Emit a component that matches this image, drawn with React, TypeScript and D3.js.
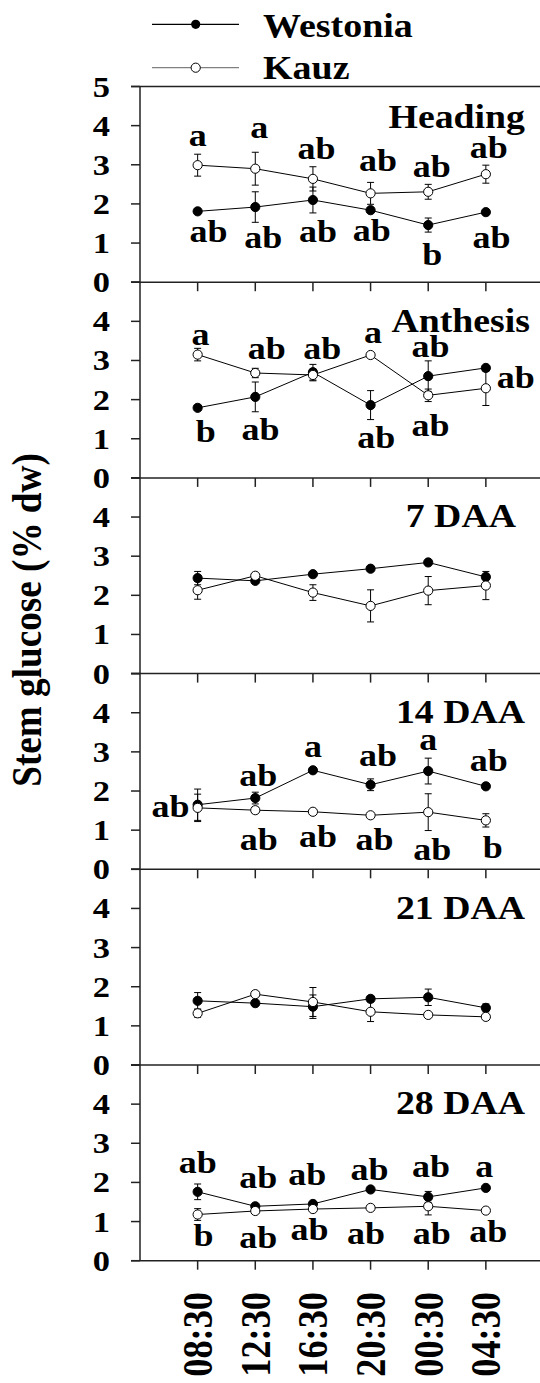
import React from "react";
import * as d3 from "d3";

const times = ["08:30", "12:30", "16:30", "20:30", "00:30", "04:30"];
const stages = ["Heading", "Anthesis", "7 DAA", "14 DAA", "21 DAA", "28 DAA"];

// stem glucose (% dw), one row per stage
const westonia = [
  [1.81, 1.92, 2.1, 1.84, 1.46, 1.79],
  [1.79, 2.07, 2.7, 1.86, 2.6, 2.81],
  [2.44, 2.37, 2.54, 2.68, 2.84, 2.47],
  [1.65, 1.82, 2.53, 2.16, 2.51, 2.12],
  [1.64, 1.58, 1.49, 1.69, 1.73, 1.46],
  [1.76, 1.39, 1.45, 1.82, 1.63, 1.86],
];
const westoniaSe = [
  [0.05, 0.39, 0.33, 0.05, 0.18, 0.05],
  [0.05, 0.38, 0.2, 0.37, 0.39, 0.06],
  [0.17, 0.05, 0.05, 0.05, 0.05, 0.07],
  [0.4, 0.15, 0.05, 0.15, 0.33, 0.05],
  [0.21, 0.05, 0.3, 0.05, 0.21, 0.1],
  [0.2, 0.05, 0.05, 0.05, 0.14, 0.05],
];
const kauz = [
  [2.99, 2.9, 2.64, 2.27, 2.31, 2.76],
  [3.15, 2.68, 2.63, 3.14, 2.11, 2.29],
  [2.13, 2.5, 2.07, 1.73, 2.12, 2.25],
  [1.57, 1.51, 1.47, 1.38, 1.46, 1.25],
  [1.32, 1.81, 1.61, 1.36, 1.28, 1.23],
  [1.18, 1.27, 1.32, 1.35, 1.39, 1.28],
];
const kauzSe = [
  [0.28, 0.42, 0.31, 0.28, 0.19, 0.23],
  [0.16, 0.12, 0.15, 0.05, 0.16, 0.44],
  [0.23, 0.05, 0.2, 0.41, 0.36, 0.36],
  [0.35, 0.08, 0.05, 0.05, 0.47, 0.17],
  [0.1, 0.05, 0.37, 0.25, 0.05, 0.05],
  [0.15, 0.05, 0.05, 0.05, 0.22, 0.05],
];

// significance letters: [time index, letter, y in % dw, nudge in time steps]
const letters: [number, string, number, number][][] = [
  [
    [0, "a", 3.47, 0], [1, "a", 3.69, 0.07], [2, "ab", 3.15, 0.06],
    [3, "ab", 2.83, 0.13], [4, "ab", 2.7, 0.06], [5, "ab", 3.17, 0.05],
    [0, "ab", 1.02, 0.19], [1, "ab", 0.87, 0.14], [2, "ab", 1.03, 0.09],
    [3, "ab", 1.04, 0.02], [4, "b", 0.45, 0.07], [5, "ab", 0.87, 0.1],
  ],
  [
    [0, "a", 3.4, 0.05], [1, "ab", 3.05, 0.2], [2, "ab", 3.05, 0.16],
    [3, "a", 3.45, 0.04], [4, "ab", 3.1, 0.04], [0, "b", 0.92, 0.14],
    [1, "ab", 0.98, 0.09], [3, "ab", 0.76, 0.1], [4, "ab", 1.06, 0.04],
    [5, "ab", 2.3, 0.52],
  ],
  [],
  [
    [0, "ab", 1.34, -0.47], [1, "ab", 2.12, 0.05], [2, "a", 2.87, 0],
    [3, "ab", 2.63, 0.13], [4, "a", 3.05, 0], [5, "ab", 2.5, 0.05],
    [1, "ab", 0.5, 0.06], [2, "ab", 0.58, 0.09], [3, "ab", 0.5, 0.07],
    [4, "ab", 0.25, 0.07], [5, "b", 0.29, 0.12],
  ],
  [],
  [
    [0, "ab", 2.24, 0], [1, "ab", 1.86, 0.05], [2, "ab", 1.94, -0.1],
    [3, "ab", 2.07, -0.02], [4, "ab", 2.15, 0.05], [5, "a", 2.15, -0.03],
    [0, "b", 0.37, 0.1], [1, "ab", 0.32, 0.05], [2, "ab", 0.54, -0.06],
    [3, "ab", 0.43, -0.08], [4, "ab", 0.43, 0.06], [5, "ab", 0.47, 0.04],
  ],
];

const W = 540;
const H = 1383;
const left = 140;
const right = 543.5;
const top = 86.5;
const panelH = 195.7;
const SY = 0.865; // the original is squashed vertically
const font = "Liberation Serif, Times New Roman, DejaVu Serif, serif";

const Txt = ({ x, y, size, anchor = "middle", rot = false, children }: any) => (
  <text
    transform={
      rot
        ? `translate(${x},${y}) rotate(-90) scale(${SY},1)`
        : `translate(${x},${y}) scale(1,${SY})`
    }
    style={{ fontFamily: font, fontWeight: 700, fontSize: size }}
    textAnchor={anchor}
  >
    {children}
  </text>
);

const Panel = ({ k }: { k: number }) => {
  const x = d3.scalePoint<string>().domain(times).range([left, right]).padding(1);
  const step = x.step();
  const y0 = top + k * panelH;
  const y = d3.scaleLinear().domain([0, 5]).range([y0 + panelH, y0]);
  const line = d3
    .line<number>()
    .x((d, i) => x(times[i])!)
    .y((d) => y(d));

  const series = [
    { vals: westonia[k], se: westoniaSe[k], fill: "#000" },
    { vals: kauz[k], se: kauzSe[k], fill: "#fff" },
  ];

  return (
    <g>
      <line x1={left - 9} x2={W} y1={y(0)} y2={y(0)} stroke="#222" strokeWidth={1.5} />
      {k === 0 && <line x1={left - 9} x2={W} y1={y(5)} y2={y(5)} stroke="#222" strokeWidth={1.5} />}
      {y.ticks(5).map((t) => (
        <g key={t}>
          <line x1={left - 9} x2={left} y1={y(t)} y2={y(t)} stroke="#222" strokeWidth={1.5} />
          {(t < 5 || k === 0) && (
            <Txt x={110} y={y(t) + 10} size={34.5} anchor="end">
              {t}
            </Txt>
          )}
        </g>
      ))}
      {times.map((t) => (
        <line key={t} x1={x(t)} x2={x(t)} y1={y(0)} y2={y(0) + 9} stroke="#222" strokeWidth={1.5} />
      ))}
      {series.map((s, j) => (
        <path key={j} d={line(s.vals)!} fill="none" stroke="#000" strokeWidth={1} />
      ))}
      {series.map((s, j) =>
        s.vals.map((v, i) => {
          const cx = x(times[i])!;
          return (
            <g key={`e${j}-${i}`} stroke="#000" strokeWidth={1}>
              <line x1={cx} x2={cx} y1={y(v - s.se[i])} y2={y(v + s.se[i])} />
              <line x1={cx - 3.5} x2={cx + 3.5} y1={y(v + s.se[i])} y2={y(v + s.se[i])} />
              <line x1={cx - 3.5} x2={cx + 3.5} y1={y(v - s.se[i])} y2={y(v - s.se[i])} />
            </g>
          );
        })
      )}
      {series.map((s, j) =>
        s.vals.map((v, i) => (
          <circle key={`m${j}-${i}`} cx={x(times[i])} cy={y(v)} r={4.6} fill={s.fill} stroke="#000" strokeWidth={1} />
        ))
      )}
      {letters[k].map(([i, txt, v, dx], n) => (
        <Txt key={n} x={x(times[i])! + dx * step} y={y(v)} size={36}>
          {txt}
        </Txt>
      ))}
      <Txt x={k === 1 ? 530 : k === 2 ? 516 : 525} y={y(k === 0 ? 3.94 : 3.74)} size={37.8} anchor="end">
        {stages[k]}
      </Txt>
    </g>
  );
};

export default function App() {
  const x = d3.scalePoint<string>().domain(times).range([left, right]).padding(1);
  const bottom = top + 6 * panelH;
  return (
    <svg
      width={W}
      height={H}
      style={{ position: "absolute", left: 0, top: 0, background: "#fff" }}
    >
      <rect width={W} height={H} fill="#fff" />
      {stages.map((s, k) => (
        <Panel key={s} k={k} />
      ))}
      <line x1={left} x2={left} y1={top} y2={bottom} stroke="#222" strokeWidth={1.5} />
      {times.map((t) => (
        <Txt key={t} x={x(t)! + 14.5} y={1292} size={42} anchor="end" rot>
          {t}
        </Txt>
      ))}
      <Txt x={41} y={620} size={43} rot>
        Stem glucose (% dw)
      </Txt>
      {/* legend */}
      <line x1={152} x2={239} y1={24.3} y2={24.3} stroke="#000" strokeWidth={1.2} />
      <circle cx={195.7} cy={24.3} r={4.6} fill="#000" />
      <Txt x={263} y={36.7} size={38} anchor="start">
        Westonia
      </Txt>
      <line x1={152} x2={239} y1={67.7} y2={67.7} stroke="#808080" strokeWidth={1.2} />
      <circle cx={195.7} cy={67.7} r={4.6} fill="#fff" stroke="#000" strokeWidth={1} />
      <Txt x={263} y={79.3} size={38} anchor="start">
        Kauz
      </Txt>
    </svg>
  );
}
